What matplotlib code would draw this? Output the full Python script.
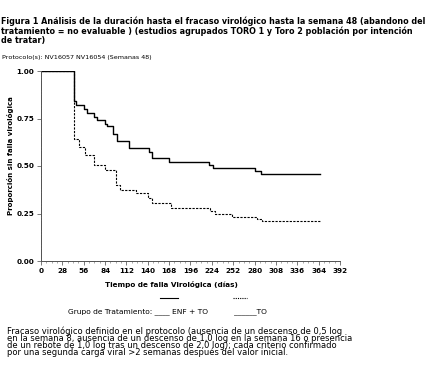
import matplotlib.pyplot as plt
from matplotlib.lines import Line2D
import numpy as np

# Data (Kaplan-Meier steps)
enf_days = [0, 43.7, 46, 56, 60, 70, 73, 84, 86, 95, 100, 115, 141, 146, 168, 220, 226, 281, 288, 366]
enf_vals = [1.00, 0.84, 0.82, 0.80, 0.78, 0.76, 0.74, 0.72, 0.71, 0.67, 0.63, 0.593, 0.575, 0.54, 0.52, 0.505, 0.49, 0.475, 0.458, 0.458]

to_days = [0, 43.7, 50, 58, 70, 84, 98, 104, 124, 140, 146, 170, 222, 228, 250, 283, 290, 366]
to_vals = [1.00, 0.64, 0.60, 0.56, 0.505, 0.48, 0.40, 0.375, 0.36, 0.33, 0.305, 0.277, 0.263, 0.247, 0.233, 0.22, 0.212, 0.212]

x_ticks = np.arange(0, 393, 28)
y_ticks = [0.00, 0.25, 0.50, 0.75, 1.00]

W, H = 439, 376
fig = plt.figure(figsize=(W / 100, H / 100), dpi=100)
plt.rcParams['font.family'] = ['DejaVu Sans']


def px(x, y):
    return x / W, 1 - y / H


# axes placed in pixel coords
left, right, top, bottom = 41, 340, 71, 261
ax = fig.add_axes([left / W, 1 - bottom / H, (right - left) / W, (bottom - top) / H])

ax.step(enf_days, enf_vals, where='post', color='black', lw=1.0)
ax.step(to_days, to_vals, where='post', color='black', lw=0.8, linestyle=(0, (2, 1.2)))

ax.set_xlim(0, 392)
ax.set_ylim(0, 1.0)
ax.set_xticks(x_ticks)
ax.set_xticks(np.arange(0, 393, 7), minor=True)
ax.set_yticks(y_ticks)
ax.set_xticklabels([str(t) for t in x_ticks], fontsize=5.2, fontweight='bold')
ax.set_yticklabels(['%.2f' % t for t in y_ticks], fontsize=5.2, fontweight='bold')
ax.tick_params(axis='both', which='major', length=3, width=0.5, pad=2, color='#444')
ax.tick_params(axis='x', which='minor', length=1.5, width=0.4, color='#666')

for s in ['top', 'right']:
    ax.spines[s].set_visible(False)
for s in ['left', 'bottom']:
    ax.spines[s].set_color('#555')
    ax.spines[s].set_linewidth(0.7)
    ax.spines[s].set_linestyle((0, (1, 0.6)))

# axis labels
fig.text(*px(171, 284), 'Tiempo de falla Virológica (días)', fontsize=5.2, fontweight='bold',
         ha='center', va='center')
fig.text(*px(11, 156), 'Proporción sin falla virológica', fontsize=5.0, fontweight='bold',
         ha='center', va='center', rotation=90)

# title
title_lines = [
    'Figura 1 Análisis de la duración hasta el fracaso virológico hasta la semana 48 (abandono del',
    'tratamiento = no evaluable ) (estudios agrupados TORO 1 y Toro 2 población por intención',
    'de tratar)',
]
fig.text(*px(1, 16), '\n'.join(title_lines), fontsize=5.78, fontweight='bold', ha='left',
         va='top', linespacing=1.1)

fig.text(*px(2, 57), 'Protocolo(s): NV16057 NV16054 (Semanas 48)', fontsize=4.6,
         ha='left', va='center')

# legend
fig.add_artist(Line2D([160 / W, 178 / W], [1 - 298 / H, 1 - 298 / H], color='black', lw=0.8))
fig.add_artist(Line2D([233 / W, 247 / W], [1 - 298 / H, 1 - 298 / H], color='black', lw=0.8,
                      linestyle=(0, (1, 1))))
fig.text(*px(68, 312), 'Grupo de Tratamiento: ____ ENF + TO           ______TO', fontsize=5.4,
         ha='left', va='center')

# footnote
foot = [
    'Fracaso virológico definido en el protocolo (ausencia de un descenso de 0,5 log',
    'en la semana 8, ausencia de un descenso de 1,0 log en la semana 16 o presencia',
    'de un rebote de 1,0 log tras un descenso de 2,0 log); cada criterio confirmado',
    'por una segunda carga viral >2 semanas después del valor inicial.',
]
fig.text(*px(7, 326), '\n'.join(foot), fontsize=6.0, ha='left', va='top', linespacing=0.72)

plt.savefig('out.png', dpi=100)
plt.close()
